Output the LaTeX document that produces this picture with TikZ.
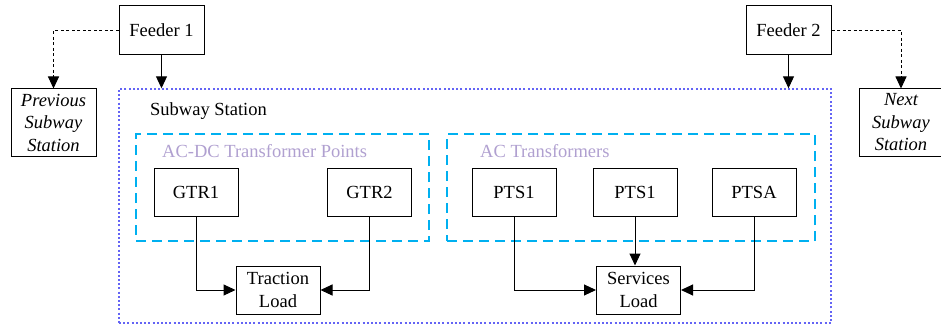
\documentclass[tikz,border=0pt]{standalone}
\usepackage{fontspec}
\setmainfont{Liberation Serif}
\usetikzlibrary{arrows.meta}
\definecolor{dotblue}{RGB}{100,100,245}
\definecolor{dashcyan}{RGB}{0,176,240}
\definecolor{lav}{RGB}{176,160,208}
\begin{document}
\begin{tikzpicture}[x=1pt,y=-1pt,
  every node/.style={font=\fontsize{18.5}{22.5}\selectfont},
  box/.style={draw=black, line width=1pt, minimum width=84pt, minimum height=48pt, inner sep=0pt, align=center},
  group/.style={draw=dashcyan, line width=1.3pt, dash pattern=on 10pt off 6pt, inner sep=0pt},
  station/.style={draw=dotblue, line width=1.4pt, dash pattern=on 2pt off 2.2pt, inner sep=0pt},
  arr/.style={line width=1pt, -{Triangle[length=12pt,width=11pt]}},
  darr/.style={arr, dash pattern=on 3pt off 2.5pt},
  grouplabel/.style={text=lav, anchor=west, inner sep=0pt}
]
\useasboundingbox (0,0) rectangle (941,326);
% containers
\node[station, minimum width=712pt, minimum height=234pt] (st) at (475,206) {};
\node[anchor=west, inner sep=0pt] (stl) at (150,111) {Subway Station};
\node[group, minimum width=293pt, minimum height=107pt] (acdc) at (282.5,187.5) {};
\node[grouplabel] (acdcl) at (162,151) {AC-DC Transformer Points};
\node[group, minimum width=368pt, minimum height=107pt] (ac) at (631,187.5) {};
\node[grouplabel] (acl) at (480,151) {AC Transformers};
% feeders and neighbours
\node[box, minimum width=85pt, minimum height=49pt] (f1) at (161.5,30.5) {Feeder 1};
\node[box, minimum width=85pt, minimum height=49pt] (f2) at (788.5,30.5) {Feeder 2};
\node[box, minimum width=85pt, minimum height=67pt, font=\fontsize{18.5}{22.5}\selectfont\itshape] (prev) at (53.5,122.5) {Previous\\Subway\\Station};
\node[box, minimum width=84pt, minimum height=67pt, font=\fontsize{18.5}{22.5}\selectfont\itshape] (next) at (901,122.5) {Next\\Subway\\Station};
% transformers
\node[box] (gtr1) at (196,192) {GTR1};
\node[box] (gtr2) at (369.5,192) {GTR2};
\node[box] (pts1) at (514,192) {PTS1};
\node[box] (pts2) at (635,192) {PTS1};
\node[box] (ptsa) at (754,192) {PTSA};
% loads
\node[box] (trac) at (278,290) {Traction\\Load};
\node[box] (serv) at (638.5,290) {Services\\Load};
% connectors
\draw[darr] (f1.west) -| (prev.north);
\draw[darr] (f2.east) -| (next.north);
\draw[arr] (f1.south) -- (f1.south |- st.north);
\draw[arr] (f2.south) -- (f2.south |- st.north);
\draw[arr] (gtr1.south) |- (trac.west);
\draw[arr] (gtr2.south) |- (trac.east);
\draw[arr] (pts1.south) |- (serv.west);
\draw[arr] (pts2.south) -- (pts2.south |- serv.north);
\draw[arr] (ptsa.south) |- (serv.east);
\end{tikzpicture}
\end{document}
